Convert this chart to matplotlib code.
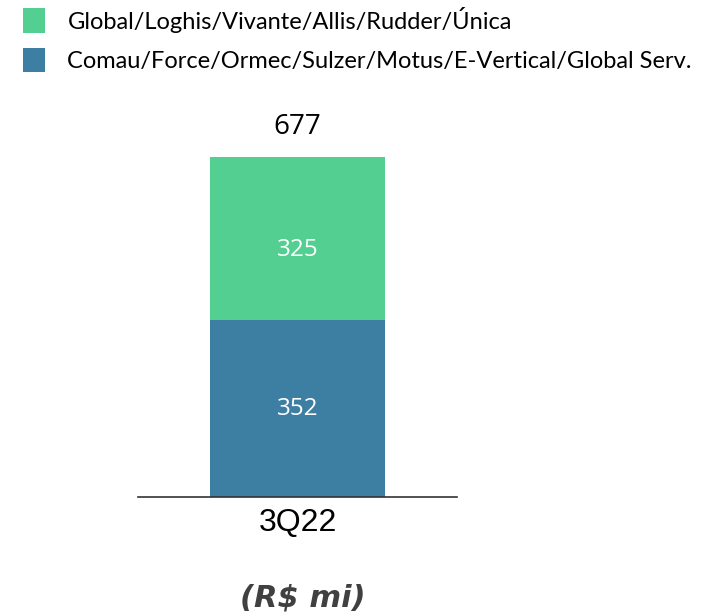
import matplotlib.pyplot as plt

quarters = ['3Q22']
bottom_vals = [352]   # Comau/Force/...
top_vals = [325]      # Global/Loghis/...
labels = ['Comau/Force/Ormec/Sulzer/Motus/E-Vertical/Global Serv.',
          'Global/Loghis/Vivante/Allis/Rudder/Única']
totals = [b + t for b, t in zip(bottom_vals, top_vals)]

green = '#52CF91'
blue = '#3D7EA3'

fig = plt.figure(figsize=(7.25, 6.16), dpi=100)
ax = fig.add_axes([138/725, 119/616, 319/725, 387/616])

b1 = ax.bar(quarters, bottom_vals, width=0.99, color=blue)
b2 = ax.bar(quarters, top_vals, bottom=bottom_vals, width=0.99, color=green)

for i, q in enumerate(quarters):
    ax.text(i, bottom_vals[i] / 2, str(bottom_vals[i]), ha='center', va='center',
            color='white', fontsize=17.5, family='Open Sans')
    ax.text(i, bottom_vals[i] + top_vals[i] / 2 - 22, str(top_vals[i]), ha='center',
            va='center', color='white', fontsize=17.5, family='Open Sans')
    ax.text(i, totals[i] + 33, str(totals[i]), ha='center', va='bottom',
            color='black', fontsize=20, family='Open Sans')

ax.set_xlim(-0.9, 0.9)
ax.set_ylim(0, 771)
for s in ['top', 'right', 'left']:
    ax.spines[s].set_visible(False)
ax.spines['bottom'].set_color('#333333')
ax.spines['bottom'].set_linewidth(1.2)
ax.set_yticks([])
ax.tick_params(axis='x', length=0, pad=8, labelsize=23)
for t in ax.get_xticklabels():
    t.set_family('Liberation Sans')

fig.legend([b2, b1], [labels[1], labels[0]], loc='upper left',
           bbox_to_anchor=(6/725, 1 + 10/616), frameon=False,
           handlelength=0.95, handleheight=1.2, handletextpad=0.95,
           labelspacing=0.65, borderpad=0.2,
           prop={'family': 'Lato', 'size': 17})

fig.text(303/725, 1 - 598/616, '(R$ mi)', ha='center', va='center',
         fontsize=22, fontweight='bold', fontstyle='italic',
         family='DejaVu Sans', color='#404040')

fig.savefig('out.png', dpi=100)
